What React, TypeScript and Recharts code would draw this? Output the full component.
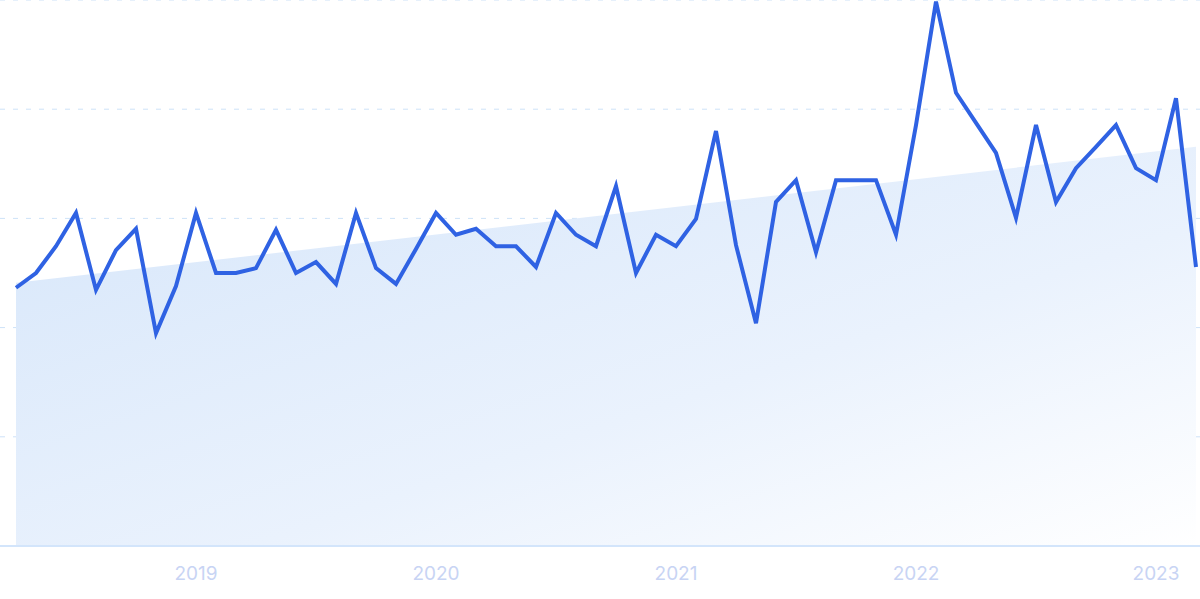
import React from 'react';
import { ComposedChart, Line, Area, XAxis, YAxis, CartesianGrid } from 'recharts';

const months: string[] = [
  '2018-04','2018-05','2018-06','2018-07','2018-08','2018-09','2018-10','2018-11','2018-12',
  '2019-01','2019-02','2019-03','2019-04','2019-05','2019-06','2019-07','2019-08','2019-09','2019-10','2019-11','2019-12',
  '2020-01','2020-02','2020-03','2020-04','2020-05','2020-06','2020-07','2020-08','2020-09','2020-10','2020-11','2020-12',
  '2021-01','2021-02','2021-03','2021-04','2021-05','2021-06','2021-07','2021-08','2021-09','2021-10','2021-11','2021-12',
  '2022-01','2022-02','2022-03','2022-04','2022-05','2022-06','2022-07','2022-08','2022-09','2022-10','2022-11','2022-12',
  '2023-01','2023-02','2023-03',
];

const interest: number[] = [
  47.3, 50.0, 54.9, 61.0, 46.9, 54.2, 58.1, 39.0, 47.6,
  61.0, 50.0, 50.0, 50.9, 57.9, 50.0, 52.0, 48.0, 61.0, 50.9, 48.0, 54.4,
  61.0, 57.0, 58.1, 54.9, 54.9, 51.1, 61.0, 57.0, 54.9, 65.9, 50.0, 57.0,
  54.9, 59.9, 76.0, 55.1, 40.8, 63.0, 67.0, 53.8, 67.0, 67.0, 67.0, 57.0,
  77.1, 99.7, 83.0, 77.5, 72.0, 60.1, 77.1, 63.0, 69.2, 73.1, 77.1, 69.2,
  67.0, 82.0, 51.1,
];

// trend line: only endpoints given, straight line connects them
const trendStart = 48.2;
const trendEnd = 73.1;

const yTicks: number[] = [0, 20, 40, 60, 80, 100];

const data = months.map((m, i) => ({
  month: m,
  value: interest[i],
  trend: i === 0 ? trendStart : i === months.length - 1 ? trendEnd : null,
}));

export default function App() {
  return (
    <div style={{ position: 'absolute', left: 0, top: 0, width: 1200, height: 599, background: '#ffffff' }}>
      <ComposedChart width={1200} height={599} data={data} margin={{ top: 0, right: 0, bottom: 0, left: 0 }}>
        <defs>
          <linearGradient id="trendFill" x1="0" y1="0" x2="1" y2="1">
            <stop offset="0%" stopColor="#d6e6fa" stopOpacity={1} />
            <stop offset="60%" stopColor="#eaf2fd" stopOpacity={1} />
            <stop offset="100%" stopColor="#ffffff" stopOpacity={1} />
          </linearGradient>
        </defs>
        <CartesianGrid vertical={false} stroke="#cde2f8" strokeDasharray="5 8" />
        <YAxis hide domain={[0, 100]} ticks={yTicks} />
        <XAxis
          dataKey="month"
          height={53}
          padding={{ left: 16, right: 4 }}
          interval={0}
          tickLine={false}
          axisLine={{ stroke: '#d3e5fb', strokeWidth: 2 }}
          tickMargin={15}
          tick={{ fill: '#c8d4f4', fontSize: 19, fontFamily: 'Inter, sans-serif' }}
          tickFormatter={(v: string) => (v.endsWith('-01') ? v.slice(0, 4) : '')}
        />
        <Area
          type="linear"
          dataKey="trend"
          connectNulls
          stroke="none"
          fill="url(#trendFill)"
          fillOpacity={1}
          isAnimationActive={false}
          dot={false}
          activeDot={false}
        />
        <Line
          type="linear"
          dataKey="value"
          stroke="#2f62e3"
          strokeWidth={4}
          dot={false}
          activeDot={false}
          isAnimationActive={false}
        />
      </ComposedChart>
    </div>
  );
}
